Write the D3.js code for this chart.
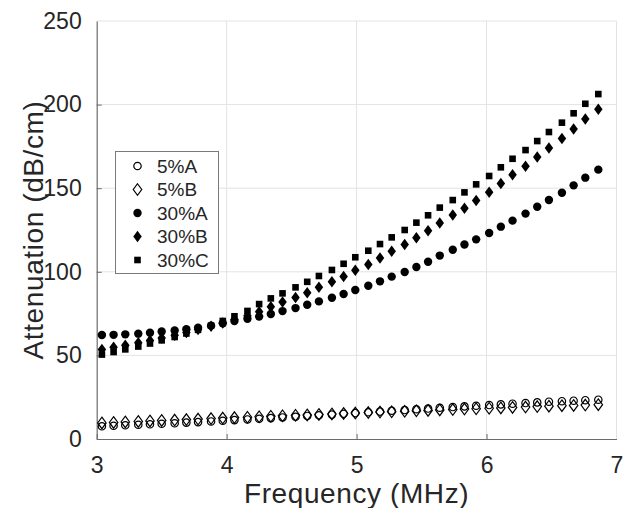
<!DOCTYPE html>
<html>
<head>
<meta charset="utf-8">
<script src="https://cdn.jsdelivr.net/npm/d3@7"></script>
<style>
  html, body { margin: 0; padding: 0; background: #fff; }
  svg { display: block; font-family: "Liberation Sans", Arial, Helvetica, sans-serif; }
</style>
</head>
<body>
<svg id="chart" width="623" height="508"></svg>
<script>
// ---- Data ----
const frequency = [3.04, 3.13, 3.22, 3.32, 3.41, 3.50, 3.60, 3.69, 3.78, 3.88,
  3.97, 4.06, 4.16, 4.25, 4.34, 4.43, 4.53, 4.62, 4.71, 4.81,
  4.90, 4.99, 5.09, 5.18, 5.27, 5.37, 5.46, 5.55, 5.64, 5.74,
  5.83, 5.92, 6.02, 6.11, 6.20, 6.30, 6.39, 6.48, 6.58, 6.67,
  6.76, 6.86];

const att5A = [7.6, 7.9, 8.2, 8.5, 8.8, 9.1, 9.4, 9.8, 10.1, 10.5,
  10.9, 11.3, 11.7, 12.1, 12.5, 12.9, 13.3, 13.8, 14.2, 14.6,
  15.1, 15.5, 16.0, 16.4, 16.9, 17.3, 17.8, 18.2, 18.7, 19.1,
  19.5, 19.9, 20.3, 20.7, 21.1, 21.5, 21.9, 22.3, 22.6, 22.9,
  23.2, 23.5];

const att5B = [9.6, 9.9, 10.2, 10.5, 10.8, 11.1, 11.3, 11.6, 11.9, 12.2,
  12.5, 12.8, 13.0, 13.3, 13.6, 13.9, 14.2, 14.4, 14.7, 15.0,
  15.3, 15.5, 15.8, 16.1, 16.3, 16.6, 16.9, 17.1, 17.4, 17.6,
  17.9, 18.1, 18.4, 18.6, 18.9, 19.1, 19.4, 19.6, 19.9, 20.1,
  20.3, 20.5];

const att30A = [62.2, 62.3, 62.6, 63.0, 63.6, 64.3, 64.9, 65.6, 66.6, 67.8,
  69.2, 70.6, 71.9, 73.2, 74.8, 76.5, 78.3, 80.3, 82.3, 84.5,
  86.7, 89.1, 91.7, 94.3, 97.1, 99.9, 102.9, 106.0, 109.7, 113.2,
  116.3, 119.4, 123.2, 127.0, 130.6, 134.8, 138.9, 142.9, 147.3, 151.7,
  156.3, 161.1];

const att30B = [53.5, 54.8, 56.1, 57.5, 58.9, 60.4, 62.0, 63.7, 65.5, 67.4,
  69.4, 71.5, 73.7, 76.1, 79.1, 81.9, 84.7, 87.4, 90.7, 94.0,
  97.2, 101.0, 104.4, 108.3, 112.3, 116.4, 120.4, 124.5, 129.2, 134.0,
  138.0, 142.6, 147.6, 152.8, 158.0, 163.2, 168.6, 174.0, 179.7, 185.4,
  191.4, 197.2];

const att30C = [50.5, 52.0, 53.6, 55.3, 57.1, 59.0, 61.0, 63.1, 65.3, 67.8,
  70.6, 73.4, 76.6, 80.7, 84.1, 87.1, 90.7, 94.0, 97.5, 101.1,
  104.8, 108.7, 112.6, 116.6, 120.6, 125.0, 129.4, 133.8, 138.4, 142.9,
  147.5, 152.3, 157.3, 162.5, 167.6, 172.8, 178.2, 183.6, 189.2, 194.8,
  200.5, 206.3];

const seriesNames = ["5%A", "5%B", "30%A", "30%B", "30%C"];
const xTicks = [3, 4, 5, 6, 7];
const yTicks = [0, 50, 100, 150, 200, 250];

// ---- Layout ----
const svg = d3.select("#chart");
const pLeft = 96.7, pRight = 616.5, pTop = 21, pBottom = 439;

const x = d3.scaleLinear().domain([3, 7]).range([pLeft, pRight]);
const y = d3.scaleLinear().domain([0, 250]).range([pBottom, pTop]);

const gridColor = "#e3e3e3";
const axisColor = "#6b6b6b";
const textColor = "#262626";

// grid
const grid = svg.append("g");
grid.selectAll("line.vx").data(xTicks.slice(1)).enter().append("line")
  .attr("x1", d => x(d)).attr("x2", d => x(d))
  .attr("y1", pTop).attr("y2", pBottom)
  .attr("stroke", gridColor).attr("stroke-width", 1);
grid.selectAll("line.hy").data(yTicks.slice(1)).enter().append("line")
  .attr("x1", pLeft).attr("x2", pRight)
  .attr("y1", d => y(d)).attr("y2", d => y(d))
  .attr("stroke", gridColor).attr("stroke-width", 1);

// axes
const fmt = d3.format("d");
const xAxis = d3.axisBottom(x).tickValues(xTicks).tickFormat(fmt)
  .tickSizeInner(-5).tickSizeOuter(0).tickPadding(18);
const yAxis = d3.axisLeft(y).tickValues(yTicks).tickFormat(fmt)
  .tickSizeInner(-5).tickSizeOuter(0).tickPadding(15);

const gx = svg.append("g").attr("transform", `translate(0,${pBottom})`).call(xAxis);
const gy = svg.append("g").attr("transform", `translate(${pLeft},0)`).call(yAxis);

[gx, gy].forEach(g => {
  g.select(".domain").attr("stroke", axisColor).attr("stroke-width", 1.2);
  g.selectAll(".tick line").attr("stroke", axisColor).attr("stroke-width", 1);
  g.selectAll(".tick text").attr("fill", textColor)
    .style("font-size", "23px")
    .style("font-family", "'Liberation Sans', Arial, sans-serif");
});
gx.selectAll(".tick line").filter(d => d === 7).remove();
gy.selectAll(".tick line").filter(d => d === 250).remove();

// axis titles
svg.append("text")
  .attr("x", (pLeft + pRight) / 2).attr("y", 503)
  .attr("text-anchor", "middle")
  .attr("fill", textColor)
  .style("font-size", "28px")
  .style("letter-spacing", "0.6px")
  .text("Frequency (MHz)");

svg.append("text")
  .attr("transform", `translate(43,${(pTop + pBottom) / 2}) rotate(-90)`)
  .attr("text-anchor", "middle")
  .attr("fill", textColor)
  .style("font-size", "28px")
  .style("letter-spacing", "0.6px")
  .text("Attenuation (dB/cm)");

// ---- Markers ----
const diamondPath = (w, h) => `M0,${-h/2}L${w/2},0L0,${h/2}L${-w/2},0Z`;

function drawMarker(sel, kind) {
  if (kind === "openCircle") {
    sel.append("circle").attr("r", 3.7).attr("fill", "none").attr("stroke", "#000").attr("stroke-width", 1.2);
  } else if (kind === "openDiamond") {
    sel.append("path").attr("d", diamondPath(8.5, 11.5)).attr("fill", "none").attr("stroke", "#000").attr("stroke-width", 1.2);
  } else if (kind === "circle") {
    sel.append("circle").attr("r", 4.2).attr("fill", "#000");
  } else if (kind === "diamond") {
    sel.append("path").attr("d", diamondPath(8.5, 11.5)).attr("fill", "#000");
  } else if (kind === "square") {
    sel.append("rect").attr("x", -3.3).attr("y", -3.3).attr("width", 6.6).attr("height", 6.6).attr("fill", "#000");
  }
}

const seriesData = [
  { name: seriesNames[0], values: att5A, kind: "openCircle" },
  { name: seriesNames[1], values: att5B, kind: "openDiamond" },
  { name: seriesNames[2], values: att30A, kind: "circle" },
  { name: seriesNames[3], values: att30B, kind: "diamond" },
  { name: seriesNames[4], values: att30C, kind: "square" }
];

seriesData.forEach(s => {
  const g = svg.append("g");
  const pts = g.selectAll("g").data(frequency.map((f, i) => ({ f, v: s.values[i] })))
    .enter().append("g")
    .attr("transform", d => `translate(${x(d.f)},${y(d.v)})`);
  drawMarker(pts, s.kind);
});

// ---- Legend ----
const lg = svg.append("g");
lg.append("rect").attr("x", 115.5).attr("y", 151.5).attr("width", 103).attr("height", 122)
  .attr("fill", "#fff").attr("stroke", "#7a7a7a").attr("stroke-width", 1);
const rowY = [166, 189.5, 213, 236.5, 260];
seriesData.forEach((s, i) => {
  const row = lg.append("g").attr("transform", `translate(137.5,${rowY[i]})`);
  drawMarker(row, s.kind);
  lg.append("text").attr("x", 157).attr("y", rowY[i]).attr("dy", "0.36em")
    .attr("fill", textColor).style("font-size", "19px").text(s.name);
});
</script>
</body>
</html>
